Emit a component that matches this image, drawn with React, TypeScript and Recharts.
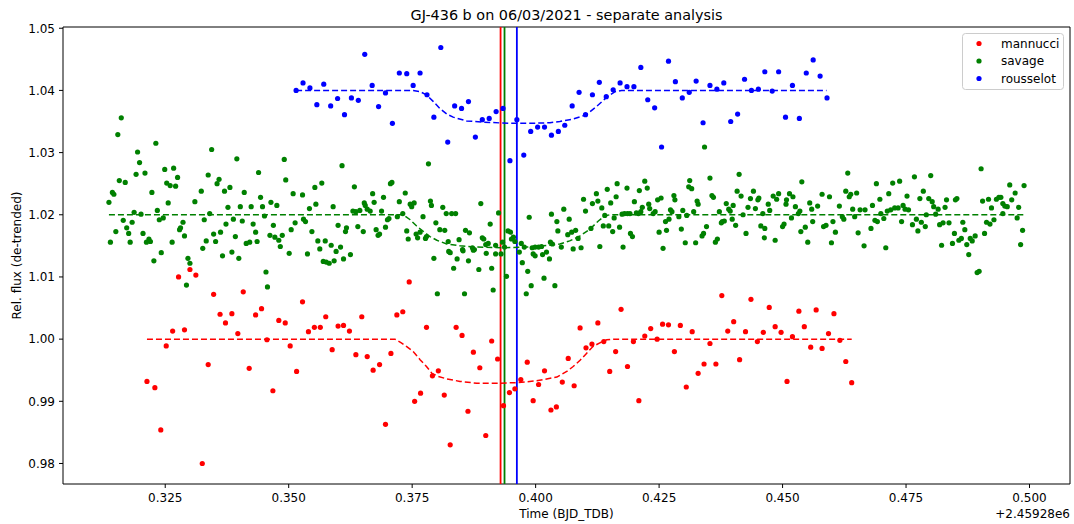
import { ScatterChart, Scatter, XAxis, YAxis, ReferenceLine, ReferenceArea } from 'recharts';

// Time is BJD_TDB - 2459280, flux is de-trended relative flux
type Pt = [number, number];

const mannucci: Pt[] = [
  [0.3213, 0.9932], [0.3229, 0.9922], [0.3241, 0.9854], [0.3252, 0.9989], [0.3265, 1.0013],
  [0.3277, 1.01], [0.3289, 1.0015], [0.33, 1.0112], [0.3312, 1.0103], [0.3325, 0.98],
  [0.3337, 0.9959], [0.3348, 1.0072], [0.3361, 1.004], [0.3372, 1.0026], [0.3385, 1.0041],
  [0.3397, 1.0009], [0.3408, 1.0076], [0.342, 0.9953], [0.3433, 1.0039], [0.3445, 1.0049],
  [0.3456, 0.9999], [0.3468, 0.9917], [0.348, 1.003], [0.3493, 1.0026], [0.3503, 0.9989],
  [0.3516, 0.9948], [0.3528, 1.006], [0.354, 1.0012], [0.3552, 1.0019], [0.3564, 1.0019],
  [0.3575, 1.0036], [0.3588, 0.9983], [0.36, 1.0021], [0.3611, 1.0022], [0.3623, 1.0013],
  [0.3636, 0.9975], [0.3648, 1.0036], [0.3659, 0.9972], [0.3671, 0.995], [0.3684, 0.9959],
  [0.3696, 0.9863], [0.3707, 0.9977], [0.3719, 1.0039], [0.3731, 1.0044], [0.3744, 1.0092],
  [0.3755, 0.99], [0.3767, 0.9913], [0.3779, 1.0019], [0.3791, 0.9941], [0.3803, 0.9949],
  [0.3815, 0.991], [0.3827, 0.983], [0.3839, 1.0019], [0.3851, 1.0006], [0.3863, 0.9884],
  [0.3874, 0.9979], [0.3887, 0.9954], [0.3899, 0.9845], [0.3911, 0.9997], [0.3923, 0.9968],
  [0.3935, 0.9893], [0.3947, 0.9914], [0.3958, 0.992], [0.397, 0.9935], [0.3983, 0.9963],
  [0.3995, 0.9901], [0.4006, 0.9927], [0.4018, 0.9949], [0.4031, 0.9886], [0.4042, 0.9891],
  [0.4054, 0.9931], [0.4066, 0.9969], [0.4078, 0.9925], [0.409, 1.0018], [0.4102, 0.9986],
  [0.4114, 0.9992], [0.4126, 1.0026], [0.4138, 0.9996], [0.415, 0.9948], [0.4162, 0.998],
  [0.4173, 1.0048], [0.4186, 0.9956], [0.4198, 0.9996], [0.4209, 0.9901], [0.4221, 1.0005],
  [0.4233, 1.0017], [0.4246, 1.0], [0.4257, 1.0024], [0.4269, 1.0023], [0.4281, 0.998],
  [0.4293, 1.0022], [0.4305, 0.9923], [0.4317, 1.0012], [0.4329, 0.9945], [0.4341, 0.996],
  [0.4353, 0.9993], [0.4365, 0.996], [0.4377, 1.007], [0.4389, 1.0013], [0.4401, 1.0028],
  [0.4413, 0.9967], [0.4425, 1.0012], [0.4436, 1.0064], [0.4449, 0.9996], [0.4461, 1.0011],
  [0.4473, 1.0051], [0.4485, 1.002], [0.4497, 1.0011], [0.4509, 0.9932], [0.452, 1.0004],
  [0.4533, 1.0045], [0.4544, 1.002], [0.4557, 0.9987], [0.4568, 1.0047], [0.458, 0.9985],
  [0.4593, 1.0009], [0.4604, 1.0041], [0.4616, 0.9998], [0.4628, 0.9964], [0.464, 0.993],
];

const savage: Pt[] = [
  [0.3136, 1.022], [0.3139, 1.0156], [0.3143, 1.0236], [0.3146, 1.0233], [0.315, 1.0173],
  [0.3154, 1.0329], [0.3157, 1.0255], [0.3161, 1.0356], [0.3165, 1.0191], [0.3169, 1.0252],
  [0.3172, 1.0179], [0.3176, 1.017], [0.3179, 1.0156], [0.3183, 1.0188], [0.3187, 1.0204],
  [0.3191, 1.0265], [0.3194, 1.0301], [0.3198, 1.0284], [0.3201, 1.0201], [0.3205, 1.017],
  [0.3209, 1.0267], [0.3212, 1.0156], [0.3217, 1.0161], [0.322, 1.0157], [0.3223, 1.0236],
  [0.3227, 1.0126], [0.3231, 1.0315], [0.3234, 1.0207], [0.3238, 1.0192], [0.3242, 1.0139],
  [0.3246, 1.0195], [0.3249, 1.0273], [0.3253, 1.0251], [0.3256, 1.0219], [0.326, 1.0247],
  [0.3264, 1.0156], [0.3267, 1.0275], [0.3271, 1.0246], [0.3275, 1.026], [0.3279, 1.0176],
  [0.3281, 1.0179], [0.3286, 1.0188], [0.3289, 1.0166], [0.3293, 1.0087], [0.3296, 1.013],
  [0.33, 1.0122], [0.331, 1.0221], [0.3323, 1.0238], [0.3326, 1.0146], [0.3329, 1.0192],
  [0.3333, 1.0158], [0.3337, 1.0264], [0.334, 1.0202], [0.3344, 1.0305], [0.3348, 1.0169],
  [0.3352, 1.0157], [0.3355, 1.025], [0.3359, 1.0257], [0.3362, 1.0172], [0.3366, 1.0134],
  [0.337, 1.0238], [0.3373, 1.0185], [0.3377, 1.0212], [0.3381, 1.0244], [0.3385, 1.014],
  [0.3388, 1.0193], [0.3392, 1.0165], [0.3395, 1.029], [0.3399, 1.013], [0.3402, 1.0213],
  [0.3406, 1.019], [0.341, 1.0236], [0.3414, 1.0154], [0.3421, 1.0156], [0.3424, 1.0213],
  [0.3428, 1.0185], [0.3433, 1.0172], [0.3436, 1.0157], [0.3439, 1.0268], [0.3443, 1.0228],
  [0.3447, 1.0213], [0.3451, 1.0198], [0.3454, 1.0108], [0.3457, 1.0084], [0.3462, 1.0167],
  [0.3464, 1.022], [0.3469, 1.0183], [0.3472, 1.0164], [0.3476, 1.0215], [0.348, 1.0159],
  [0.3483, 1.0149], [0.3487, 1.0167], [0.3491, 1.0289], [0.3494, 1.0256], [0.3501, 1.0138],
  [0.3505, 1.0176], [0.3509, 1.0234], [0.3513, 1.0187], [0.3528, 1.0232], [0.353, 1.0193],
  [0.3534, 1.0189], [0.3538, 1.0137], [0.3542, 1.021], [0.3547, 1.0173], [0.3553, 1.0244],
  [0.3555, 1.0217], [0.3559, 1.0158], [0.3563, 1.0145], [0.3567, 1.0251], [0.357, 1.0125],
  [0.3574, 1.0158], [0.3576, 1.0124], [0.3582, 1.0122], [0.3586, 1.0151], [0.359, 1.0213],
  [0.3592, 1.0126], [0.3596, 1.0141], [0.36, 1.0183], [0.3605, 1.0148], [0.3608, 1.0279],
  [0.3611, 1.0129], [0.3615, 1.0173], [0.3617, 1.0179], [0.3625, 1.0136], [0.363, 1.0206],
  [0.3633, 1.0245], [0.3636, 1.0205], [0.364, 1.0181], [0.3644, 1.0207], [0.3651, 1.0173],
  [0.3653, 1.0219], [0.3655, 1.0215], [0.3659, 1.0209], [0.3665, 1.0206], [0.367, 1.0234],
  [0.3673, 1.022], [0.3677, 1.0176], [0.3681, 1.0167], [0.3684, 1.0169], [0.3688, 1.0206],
  [0.3692, 1.0228], [0.3696, 1.018], [0.37, 1.0192], [0.3703, 1.0194], [0.3706, 1.025],
  [0.3709, 1.0252], [0.372, 1.0197], [0.3724, 1.0221], [0.3731, 1.0202], [0.3736, 1.0235],
  [0.3739, 1.0174], [0.3742, 1.0161], [0.3746, 1.0217], [0.3749, 1.0213], [0.3754, 1.0219],
  [0.3758, 1.0169], [0.3761, 1.0163], [0.3766, 1.0172], [0.3772, 1.0197], [0.3777, 1.0162],
  [0.3779, 1.0165], [0.3783, 1.0282], [0.3787, 1.0222], [0.3789, 1.0215], [0.3794, 1.013],
  [0.3798, 1.0187], [0.3801, 1.0073], [0.3806, 1.0176], [0.3812, 1.0212], [0.3816, 1.0175],
  [0.3819, 1.0202], [0.3823, 1.0157], [0.3824, 1.0141], [0.3827, 1.0139], [0.383, 1.0202],
  [0.3834, 1.0114], [0.3838, 1.0202], [0.3841, 1.0129], [0.3845, 1.016], [0.3852, 1.0144],
  [0.3853, 1.0142], [0.3856, 1.0073], [0.3858, 1.0175], [0.3864, 1.0126], [0.3866, 1.0171],
  [0.3872, 1.0147], [0.3874, 1.0143], [0.3876, 1.0144], [0.3885, 1.0112], [0.3889, 1.0218],
  [0.3892, 1.0163], [0.3895, 1.0161], [0.3899, 1.0152], [0.39, 1.0138], [0.3904, 1.0154],
  [0.3908, 1.0185], [0.3911, 1.0114], [0.3914, 1.0079], [0.3919, 1.0151], [0.3919, 1.0137],
  [0.3925, 1.0203], [0.393, 1.0137], [0.3933, 1.0156], [0.3937, 1.0148], [0.3941, 1.0101],
  [0.3944, 1.0174], [0.3949, 1.0172], [0.3951, 1.0161], [0.3955, 1.0164], [0.3958, 1.0157],
  [0.3967, 1.014], [0.3971, 1.0154], [0.3973, 1.0123], [0.3977, 1.0148], [0.3981, 1.0073],
  [0.3984, 1.0109], [0.3987, 1.0196], [0.3991, 1.0086], [0.3993, 1.0147], [0.3995, 1.0137],
  [0.3999, 1.0148], [0.3999, 1.0134], [0.4006, 1.0148], [0.4012, 1.0149], [0.4014, 1.0136],
  [0.4017, 1.0098], [0.4022, 1.014], [0.4028, 1.0129], [0.403, 1.0156], [0.4032, 1.0201],
  [0.4034, 1.0153], [0.4039, 1.0086], [0.4043, 1.0189], [0.4045, 1.0174], [0.4052, 1.0148],
  [0.4057, 1.0209], [0.4065, 1.0168], [0.4068, 1.0193], [0.4073, 1.0172], [0.4076, 1.0145],
  [0.4081, 1.0175], [0.4086, 1.0162], [0.4092, 1.0147], [0.4097, 1.0225], [0.4101, 1.0206],
  [0.4112, 1.0178], [0.4115, 1.0218], [0.4123, 1.0234], [0.4126, 1.0222], [0.413, 1.0149],
  [0.4134, 1.0211], [0.4137, 1.0182], [0.414, 1.0199], [0.4145, 1.0241], [0.4148, 1.0182],
  [0.4152, 1.0219], [0.4156, 1.0173], [0.4159, 1.0195], [0.4163, 1.0229], [0.4165, 1.025],
  [0.417, 1.018], [0.4175, 1.0201], [0.4177, 1.0148], [0.418, 1.0202], [0.4185, 1.0243],
  [0.4186, 1.0202], [0.4191, 1.0202], [0.4192, 1.017], [0.4196, 1.0165], [0.42, 1.0221],
  [0.4204, 1.0203], [0.4208, 1.0202], [0.421, 1.0239], [0.4213, 1.0205], [0.4216, 1.0212],
  [0.4221, 1.0254], [0.4226, 1.0243], [0.4229, 1.0217], [0.4231, 1.021], [0.4238, 1.0202],
  [0.4242, 1.0205], [0.4247, 1.0224], [0.425, 1.0172], [0.4254, 1.0227], [0.4258, 1.0146],
  [0.4263, 1.0189], [0.4265, 1.0175], [0.427, 1.0193], [0.4273, 1.0208], [0.4276, 1.0205],
  [0.428, 1.0231], [0.4282, 1.0224], [0.429, 1.0197], [0.4295, 1.0177], [0.4298, 1.0207],
  [0.4303, 1.0155], [0.4306, 1.0199], [0.431, 1.0245], [0.4312, 1.0255], [0.4316, 1.0242],
  [0.432, 1.0205], [0.4324, 1.0155], [0.4327, 1.0222], [0.4329, 1.0217], [0.4337, 1.0166],
  [0.434, 1.017], [0.4342, 1.0309], [0.4346, 1.0181], [0.4353, 1.0259], [0.4357, 1.0231],
  [0.436, 1.0228], [0.4364, 1.0156], [0.4368, 1.0161], [0.4372, 1.0205], [0.4376, 1.0187],
  [0.4378, 1.0189], [0.4382, 1.019], [0.4386, 1.0218], [0.4391, 1.0209], [0.4394, 1.0206],
  [0.4398, 1.0193], [0.44, 1.0215], [0.4405, 1.0183], [0.4408, 1.0238], [0.4412, 1.0265],
  [0.4416, 1.023], [0.442, 1.02], [0.4426, 1.017], [0.443, 1.0212], [0.4435, 1.0226],
  [0.4441, 1.0238], [0.4445, 1.021], [0.445, 1.0224], [0.4452, 1.0227], [0.4456, 1.0182],
  [0.446, 1.0202], [0.4463, 1.0163], [0.4464, 1.0178], [0.4471, 1.0217], [0.4474, 1.0207],
  [0.4481, 1.023], [0.4485, 1.0159], [0.4488, 1.0225], [0.4492, 1.0234], [0.45, 1.0181],
  [0.4503, 1.0185], [0.4507, 1.0217], [0.4508, 1.0224], [0.4514, 1.0234], [0.4518, 1.0195],
  [0.4521, 1.0229], [0.4526, 1.0213], [0.4532, 1.0202], [0.4535, 1.0206], [0.4537, 1.0173],
  [0.4539, 1.0253], [0.4546, 1.018], [0.4551, 1.0156], [0.4555, 1.0219], [0.4559, 1.0209],
  [0.4561, 1.0189], [0.4571, 1.0214], [0.458, 1.0233], [0.4583, 1.0181], [0.4588, 1.0183],
  [0.4595, 1.0229], [0.4599, 1.0155], [0.4602, 1.0189], [0.4607, 1.0172], [0.4615, 1.0214],
  [0.4621, 1.0197], [0.4624, 1.0193], [0.4628, 1.0238], [0.4632, 1.0267], [0.4635, 1.0229],
  [0.4638, 1.0233], [0.4642, 1.0209], [0.4646, 1.0197], [0.465, 1.0235], [0.4653, 1.0171],
  [0.4657, 1.0208], [0.4665, 1.015], [0.4667, 1.0208], [0.4679, 1.0178], [0.4682, 1.0215],
  [0.4687, 1.0191], [0.469, 1.025], [0.4692, 1.0189], [0.4697, 1.0225], [0.4699, 1.0202],
  [0.4705, 1.0194], [0.4709, 1.0147], [0.4712, 1.0206], [0.4715, 1.0234], [0.4719, 1.0208],
  [0.4723, 1.0251], [0.4727, 1.0211], [0.4734, 1.0211], [0.4737, 1.0254], [0.4741, 1.0189],
  [0.4744, 1.0215], [0.4748, 1.0209], [0.4752, 1.023], [0.4755, 1.0208], [0.4763, 1.0184],
  [0.4767, 1.0261], [0.4771, 1.0193], [0.4774, 1.0174], [0.4778, 1.0226], [0.4781, 1.0188],
  [0.4785, 1.0238], [0.4789, 1.0181], [0.4791, 1.02], [0.4796, 1.0226], [0.48, 1.0263],
  [0.4803, 1.0221], [0.4806, 1.0213], [0.481, 1.0201], [0.4815, 1.0209], [0.4818, 1.0184],
  [0.4822, 1.0151], [0.4825, 1.0187], [0.4829, 1.0212], [0.4832, 1.0224], [0.4837, 1.0187],
  [0.4844, 1.0154], [0.4848, 1.017], [0.485, 1.0224], [0.4853, 1.0226], [0.4857, 1.0159],
  [0.4862, 1.0162], [0.4865, 1.0188], [0.4869, 1.0176], [0.4873, 1.0152], [0.4877, 1.0136],
  [0.488, 1.0162], [0.4884, 1.0158], [0.489, 1.0166], [0.4894, 1.0107], [0.4898, 1.0109],
  [0.4902, 1.0274], [0.4905, 1.0222], [0.4909, 1.017], [0.4913, 1.0188], [0.4917, 1.0225],
  [0.492, 1.0185], [0.4923, 1.0211], [0.4928, 1.0192], [0.4933, 1.0225], [0.4938, 1.0228],
  [0.4942, 1.0228], [0.4946, 1.0218], [0.4946, 1.0202], [0.495, 1.0214], [0.4955, 1.0213],
  [0.496, 1.0248], [0.4964, 1.0224], [0.4971, 1.0235], [0.4975, 1.0195], [0.4978, 1.0212],
  [0.4982, 1.0152], [0.4986, 1.0175], [0.4989, 1.0247],
];

const rousselot: Pt[] = [
  [0.3515, 1.04], [0.3529, 1.0412], [0.3543, 1.0404], [0.3557, 1.0377], [0.3571, 1.041],
  [0.3585, 1.0375], [0.3599, 1.0387], [0.3613, 1.0361], [0.3627, 1.0388], [0.3641, 1.0384],
  [0.3654, 1.0458], [0.3669, 1.0408], [0.3682, 1.0374], [0.3696, 1.0396], [0.371, 1.0347],
  [0.3724, 1.0428], [0.3739, 1.0427], [0.3752, 1.0408], [0.3766, 1.0428], [0.378, 1.0393],
  [0.3794, 1.0357], [0.3808, 1.0469], [0.3822, 1.0317], [0.3836, 1.0375], [0.385, 1.0371],
  [0.3864, 1.0382], [0.3878, 1.0325], [0.3892, 1.0353], [0.3906, 1.0355], [0.392, 1.0366],
  [0.3934, 1.0371], [0.3948, 1.0287], [0.3962, 1.0353], [0.3976, 1.0296], [0.399, 1.0334],
  [0.4004, 1.0341], [0.4018, 1.0341], [0.4032, 1.0328], [0.4046, 1.0334], [0.4059, 1.0344],
  [0.4074, 1.0375], [0.4088, 1.0397], [0.4101, 1.0361], [0.4115, 1.0393], [0.4129, 1.0413],
  [0.4143, 1.039], [0.4157, 1.0401], [0.4171, 1.0412], [0.4185, 1.0406], [0.4199, 1.0406],
  [0.4213, 1.0437], [0.4227, 1.0385], [0.4241, 1.0372], [0.4255, 1.0309], [0.4269, 1.0447],
  [0.4283, 1.0414], [0.4297, 1.0388], [0.4311, 1.0397], [0.4325, 1.0415], [0.4339, 1.0348],
  [0.4353, 1.0408], [0.4367, 1.0402], [0.4381, 1.0412], [0.4395, 1.035], [0.4409, 1.0362],
  [0.4423, 1.0418], [0.4437, 1.04], [0.4451, 1.0402], [0.4464, 1.043], [0.4479, 1.0399],
  [0.4492, 1.043], [0.4506, 1.0357], [0.452, 1.0408], [0.4534, 1.0355], [0.4548, 1.0428],
  [0.4562, 1.0449], [0.4576, 1.0423], [0.459, 1.0388],
];

// fitted transit models (dashed)
const mannucciModel: Pt[] = [
  [0.3213, 1.0], [0.3715, 1.0], [0.3728, 0.9994], [0.3739, 0.9988], [0.3752, 0.998],
  [0.3766, 0.9967], [0.3779, 0.9956], [0.379, 0.9945], [0.3803, 0.994], [0.382, 0.9936],
  [0.3847, 0.9932], [0.3881, 0.9929], [0.3921, 0.9929], [0.3962, 0.993], [0.4002, 0.9933],
  [0.4043, 0.9939], [0.4063, 0.9948], [0.4076, 0.9956], [0.409, 0.9966], [0.4103, 0.9977],
  [0.4116, 0.9988], [0.413, 0.9994], [0.4144, 0.9999], [0.4157, 1.0], [0.464, 1.0],
];

const savageModel: Pt[] = [
  [0.3136, 1.02], [0.3732, 1.02], [0.3746, 1.0192], [0.3759, 1.0182], [0.3773, 1.0173],
  [0.3786, 1.0165], [0.38, 1.0159], [0.382, 1.0153], [0.3847, 1.015], [0.3881, 1.0148],
  [0.3935, 1.0147], [0.3982, 1.0148], [0.4029, 1.0151], [0.4049, 1.0153], [0.4069, 1.0158],
  [0.409, 1.0166], [0.411, 1.0177], [0.4127, 1.019], [0.414, 1.0198], [0.415, 1.02],
  [0.4989, 1.02],
];

const rousselotModel: Pt[] = [
  [0.3515, 1.04], [0.3752, 1.04], [0.3766, 1.0398], [0.3779, 1.0393], [0.3793, 1.0382],
  [0.3806, 1.0371], [0.382, 1.0362], [0.3833, 1.0357], [0.386, 1.0351], [0.3894, 1.0349],
  [0.3948, 1.0347], [0.3989, 1.0347], [0.4029, 1.0348], [0.4049, 1.035], [0.4076, 1.0354],
  [0.4103, 1.0361], [0.4123, 1.0374], [0.4144, 1.0389], [0.4161, 1.0398], [0.4174, 1.04],
  [0.4589, 1.04],
];

// mid-transit times from each analysis
const midTimes = [0.3929, 0.3937, 0.3962];

const X_TICKS = [0.325, 0.35, 0.375, 0.4, 0.425, 0.45, 0.475, 0.5];
const Y_TICKS = [0.98, 0.99, 1.0, 1.01, 1.02, 1.03, 1.04, 1.05];
const X_DOMAIN: [number, number] = [0.3043, 0.5082];
const Y_DOMAIN: [number, number] = [0.9767, 1.0502];

const FONT = "'DejaVu Sans', sans-serif";

const SERIES = [
  { name: 'mannucci', color: '#ff0000', points: mannucci, model: mannucciModel, mid: midTimes[0] },
  { name: 'savage', color: '#008000', points: savage, model: savageModel, mid: midTimes[1] },
  { name: 'rousselot', color: '#0000ff', points: rousselot, model: rousselotModel, mid: midTimes[2] },
];

const toRows = (pts: Pt[]) => pts.map(([t, f]) => ({ t, f }));

const dotShape = (color: string) => (props: any) => (
  <circle cx={props.cx} cy={props.cy} r={2.6} fill={color} />
);
const noShape = () => <g />;

const tickStyle = { fill: '#000', fontSize: 12, fontFamily: FONT };

export default function App() {
  return (
    <div style={{ position: 'absolute', left: 0, top: 0, width: 1074, height: 524, background: '#fff' }}>
      <ScatterChart width={1074} height={524} margin={{ top: 27, right: 4, bottom: 0, left: 0 }}>
        <XAxis
          type="number"
          dataKey="t"
          domain={X_DOMAIN}
          ticks={X_TICKS}
          interval={0}
          allowDataOverflow
          height={40}
          axisLine={false}
          tickLine={{ stroke: '#000' }}
          tickSize={4}
          tickMargin={5}
          tick={tickStyle}
          tickFormatter={(v: number) => v.toFixed(3)}
        />
        <YAxis
          type="number"
          dataKey="f"
          domain={Y_DOMAIN}
          ticks={Y_TICKS}
          interval={0}
          allowDataOverflow
          width={63}
          axisLine={false}
          tickLine={{ stroke: '#000' }}
          tickSize={4}
          tickMargin={4}
          tick={tickStyle}
          tickFormatter={(v: number) => v.toFixed(2)}
        />
        {SERIES.flatMap((s) => [
          <Scatter
            key={s.name}
            name={s.name}
            data={toRows(s.points)}
            fill={s.color}
            shape={dotShape(s.color)}
            isAnimationActive={false}
          />,
          <Scatter
            key={s.name + '-model'}
            data={toRows(s.model)}
            fill={s.color}
            shape={noShape}
            line={{ stroke: s.color, strokeWidth: 1.5, strokeDasharray: '6 3' }}
            legendType="none"
            isAnimationActive={false}
          />,
        ])}
        {SERIES.map((s) => (
          <ReferenceLine key={s.name + '-mid'} x={s.mid} stroke={s.color} strokeWidth={1.8} />
        ))}
        <ReferenceArea
          x1={X_DOMAIN[0]}
          x2={X_DOMAIN[1]}
          y1={Y_DOMAIN[0]}
          y2={Y_DOMAIN[1]}
          fill="none"
          fillOpacity={0}
          stroke="#000"
          strokeWidth={1}
          strokeOpacity={1}
        />
      </ScatterChart>
      <svg
        width={1074}
        height={524}
        style={{ position: 'absolute', left: 0, top: 0, pointerEvents: 'none' }}
        fontFamily={FONT}
      >
        <text x={566.5} y={20} textAnchor="middle" fontSize={14.4} fill="#000">
          GJ-436 b on 06/03/2021 - separate analysis
        </text>
        <text x={566.5} y={518} textAnchor="middle" fontSize={12} fill="#000">
          Time (BJD_TDB)
        </text>
        <text x={1070} y={518} textAnchor="end" fontSize={12} fill="#000">
          +2.45928e6
        </text>
        <text
          x={0}
          y={0}
          transform="translate(21 255.5) rotate(-90)"
          textAnchor="middle"
          fontSize={12}
          fill="#000"
        >
          Rel. flux (de-trended)
        </text>
        <rect x={962.5} y={33.5} width={101} height={56} rx={3} fill="#fff" fillOpacity={0.8} stroke="#cccccc" />
        {SERIES.map((s, i) => (
          <g key={s.name}>
            <circle cx={979} cy={43.5 + i * 17.5} r={2.6} fill={s.color} />
            <text x={1001} y={47.8 + i * 17.5} fontSize={12} fill="#000">
              {s.name}
            </text>
          </g>
        ))}
      </svg>
    </div>
  );
}
